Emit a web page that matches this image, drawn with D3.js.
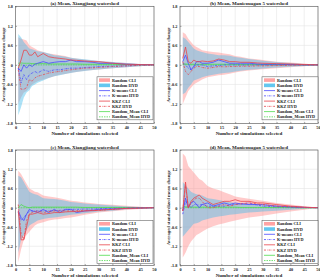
<!DOCTYPE html>
<html><head><meta charset="utf-8">
<script src="https://cdn.jsdelivr.net/npm/d3@7"></script>
<style>body{margin:0;background:#fff}svg{display:block}text{font-family:"Liberation Serif","DejaVu Serif",serif;font-weight:bold;fill:#222}</style>
</head><body><svg id="c" width="320" height="278"></svg>
<script>
const xs = [1,2,3,4,5,6,7,8,10,12,14,16,18,20,22,25,28,30,35,40,45,50];
const xTicks = [0,5,10,15,20,25,30,35,40,45,50];
const yTicks = [1.8,1.2,0.6,0,-0.6,-1.2,-1.8];
const yTickLabels = ["1.8","1.2","0.6","0","-0.6","-1.2","-1.8"];
const titles = ["(a) Mean, Xiangjiang watershed","(b) Mean, Manicouagan 5 watershed","(c) Mean, Xiangjiang watershed","(d) Mean, Manicouagan 5 watershed"];
const legendLabels = ["Random CLI","Random HYD","K-means CLI","K-means HYD","KKZ CLI","KKZ HYD","Random_Mean CLI","Random_Mean HYD"];

// Panel (a)
const aCliUp = [0.85,0.8,0.78,0.75,0.6,0.55,0.5,0.45,0.4,0.35,0.33,0.3,0.27,0.22,0.2,0.16,0.14,0.12,0.09,0.06,0.03,0];
const aCliLo = [-1.2,-1.0,-0.85,-0.8,-0.7,-0.6,-0.55,-0.5,-0.45,-0.4,-0.35,-0.3,-0.28,-0.24,-0.22,-0.18,-0.16,-0.14,-0.1,-0.07,-0.04,0];
const aHydUp = [0.95,0.85,0.7,0.6,0.5,0.48,0.45,0.42,0.4,0.35,0.3,0.28,0.25,0.22,0.2,0.17,0.14,0.12,0.09,0.06,0.03,0];
const aHydLo = [-1.55,-1.3,-1.0,-0.85,-0.78,-0.65,-0.6,-0.55,-0.48,-0.4,-0.35,-0.32,-0.28,-0.25,-0.22,-0.19,-0.16,-0.14,-0.1,-0.07,-0.04,0];
const aKmCli = [-0.1,-0.2,0.0,-0.1,0.0,-0.05,0.02,0.05,0.1,0.05,0.08,0.1,0.1,0.15,0.1,0.1,0.08,0.05,0.05,0.02,0.01,0];
const aKmHyd = [-0.1,-0.55,-0.3,-0.45,-0.3,-0.25,-0.2,-0.25,-0.15,-0.2,-0.15,-0.15,-0.12,-0.1,-0.1,-0.08,-0.07,-0.05,-0.04,-0.03,-0.01,0];
const aKkzCli = [-0.1,0.15,0.45,0.45,0.3,0.3,0.4,0.25,0.35,0.25,0.22,0.2,0.18,0.15,0.14,0.12,0.1,0.1,0.05,0.02,0.01,0];
const aKkzHyd = [-0.15,-0.75,-0.75,-0.7,-0.45,-0.5,-0.4,-0.35,-0.3,-0.25,-0.22,-0.2,-0.17,-0.15,-0.13,-0.1,-0.09,-0.08,-0.05,-0.03,-0.01,0];
const aRmCli = [0.05,0.06,0.05,0.05,0.05,0.04,0.04,0.04,0.04,0.03,0.03,0.03,0.03,0.03,0.03,0.02,0.02,0.02,0.02,0.01,0.01,0];
const aRmHyd = [-0.02,0,-0.02,-0.01,-0.01,0,0,0,0,0,0,0,0,0,0,0,0,0,0,0,0,0];

// Panel (b)
const bCliUp = [1.0,0.95,0.8,0.7,0.6,0.55,0.5,0.45,0.42,0.4,0.38,0.35,0.33,0.27,0.25,0.2,0.17,0.15,0.1,0.07,0.04,0];
const bCliLo = [-1.2,-1.0,-0.8,-0.7,-0.6,-0.55,-0.5,-0.45,-0.38,-0.35,-0.32,-0.3,-0.27,-0.23,-0.2,-0.17,-0.15,-0.13,-0.1,-0.07,-0.04,0];
const bHydUp = [0.85,0.8,0.7,0.6,0.5,0.45,0.42,0.4,0.35,0.33,0.3,0.3,0.28,0.24,0.22,0.18,0.15,0.13,0.09,0.06,0.03,0];
const bHydLo = [-0.9,-0.85,-0.7,-0.6,-0.48,-0.45,-0.42,-0.38,-0.33,-0.3,-0.27,-0.25,-0.23,-0.2,-0.18,-0.15,-0.13,-0.11,-0.08,-0.06,-0.03,0];
const bKmCli = [0.1,0.3,0.05,-0.15,-0.05,0.1,0.1,0.05,0.05,0.08,0.15,0.1,0.05,0.05,0.05,0.05,0.03,0.02,0.02,0.01,0,0];
const bKmHyd = [0.05,0,-0.1,-0.15,-0.05,0,0,0,-0.05,-0.03,-0.02,0,0,0,0,0,0,0,0,0,0,0];
const bKkzCli = [0.2,0.55,0.1,0.05,0.15,0.1,0.1,0.12,0.1,0.12,0.18,0.15,0.1,0.1,0.08,0.08,0.06,0.05,0.04,0.03,0.01,0];
const bKkzHyd = [0.1,-0.2,-0.3,-0.2,-0.1,-0.05,-0.05,-0.08,-0.1,-0.08,-0.05,-0.06,-0.05,-0.05,-0.04,-0.04,-0.03,-0.03,-0.02,-0.01,0,0];
const bRmCli = [0.03,0.03,0.02,0.02,0.02,0.02,0.02,0.02,0.02,0.02,0.02,0.02,0.02,0.01,0.01,0.01,0.01,0.01,0.01,0.01,0,0];
const bRmHyd = [0.01,0.01,0.01,0,0,0,0,0,0,0,0,0,0,0,0,0,0,0,0,0,0,0];

// Panel (c)
const cCliUp = [1.15,1.05,0.9,0.75,0.6,0.55,0.5,0.48,0.38,0.35,0.33,0.3,0.26,0.22,0.2,0.16,0.14,0.12,0.09,0.06,0.03,0];
const cCliLo = [-1.7,-1.3,-1.0,-0.85,-0.75,-0.65,-0.55,-0.5,-0.45,-0.4,-0.37,-0.35,-0.32,-0.3,-0.27,-0.22,-0.18,-0.15,-0.11,-0.07,-0.04,0];
const cHydUp = [1.0,0.95,0.8,0.65,0.5,0.45,0.42,0.4,0.3,0.28,0.27,0.25,0.22,0.18,0.16,0.13,0.11,0.1,0.07,0.04,0.02,0];
const cHydLo = [-1.4,-1.0,-0.85,-0.7,-0.55,-0.5,-0.45,-0.4,-0.35,-0.32,-0.3,-0.28,-0.25,-0.22,-0.2,-0.17,-0.14,-0.12,-0.09,-0.05,-0.03,0];
const cKmCli = [-0.1,-0.3,-0.4,-0.2,-0.05,-0.1,-0.12,-0.15,-0.05,-0.15,-0.05,-0.15,-0.05,-0.05,-0.15,-0.1,-0.08,-0.05,-0.04,-0.02,-0.01,0];
const cKmHyd = [-0.15,-0.4,-0.3,-0.2,-0.1,-0.1,-0.1,-0.1,-0.1,-0.1,-0.09,-0.08,-0.07,-0.05,-0.05,-0.04,-0.04,-0.03,-0.02,-0.01,0,0];
const cKkzCli = [-0.1,-1.0,-1.0,-0.6,-0.2,-0.2,-0.18,-0.15,-0.2,-0.18,-0.15,-0.15,-0.13,-0.12,-0.12,-0.1,-0.09,-0.08,-0.05,-0.02,-0.01,0];
const cKkzHyd = [0.1,-0.8,-1.0,-0.4,-0.2,-0.15,-0.12,-0.1,-0.15,-0.12,-0.1,-0.1,-0.1,-0.1,-0.09,-0.08,-0.08,-0.08,-0.05,-0.02,-0.01,0];
const cRmCli = [0,0.1,0.05,0.02,0,0.02,0.02,0.02,0.02,0.02,0.02,0.02,0.02,0.02,0.02,0.01,0.01,0.01,0.01,0.01,0,0];
const cRmHyd = [0,0,0,0,0,0,0,0,0,0,0,0,0,0,0,0,0,0,0,0,0,0];

// Panel (d)
const dCliUp = [1.69,1.6,1.3,1.2,1.1,1.0,0.9,0.85,0.68,0.6,0.55,0.48,0.42,0.35,0.32,0.28,0.24,0.22,0.15,0.1,0.05,0];
const dCliLo = [-1.55,-1.4,-1.2,-1.05,-0.95,-0.85,-0.8,-0.75,-0.65,-0.58,-0.52,-0.48,-0.44,-0.4,-0.36,-0.3,-0.27,-0.25,-0.18,-0.12,-0.06,0];
const dHydUp = [0.8,0.7,0.6,0.5,0.45,0.42,0.4,0.38,0.3,0.27,0.24,0.2,0.18,0.15,0.14,0.12,0.11,0.1,0.07,0.05,0.02,0];
const dHydLo = [-0.9,-0.8,-0.7,-0.6,-0.5,-0.48,-0.45,-0.4,-0.35,-0.3,-0.27,-0.25,-0.22,-0.2,-0.18,-0.15,-0.13,-0.12,-0.09,-0.06,-0.03,0];
const dKmCli = [-0.1,0.3,0,0.15,0.2,0.1,0,0.1,0.15,0.05,0.1,0.15,0.1,0.15,0.12,0.1,0.1,0.1,0.05,0.03,0.01,0];
const dKmHyd = [-0.2,0.2,0.1,0,0.1,0.1,0.08,0.1,0.05,0.05,0.05,0.05,0.08,0.1,0.12,0.15,0.08,0.05,0.03,0.02,0.01,0];
const dKkzCli = [-0.1,0.8,0,0.2,0.3,0.35,0.4,0.3,0.2,0.1,0.15,0.2,0.2,0.25,0.2,0.2,0.15,0.15,0.1,0.05,0.02,0];
const dKkzHyd = [-0.1,0.7,0,0.15,0.25,0.3,0.3,0.2,0,0,0.05,0.1,0.05,0.1,0.12,0.15,0.12,0.1,0.05,0.03,0.01,0];
const dRmCli = [0.02,0.03,0.02,0.02,0.02,0.02,0.02,0.02,0.02,0.02,0.02,0.02,0.02,0.02,0.01,0.01,0.01,0.01,0.01,0.01,0,0];
const dRmHyd = [0,0.01,0,0,0,0,0,0,0,0,0,0,0,0,0,0,0,0,0,0,0,0];

const panels = [
 {cliUp:aCliUp,cliLo:aCliLo,hydUp:aHydUp,hydLo:aHydLo,kmCli:aKmCli,kmHyd:aKmHyd,kkzCli:aKkzCli,kkzHyd:aKkzHyd,rmCli:aRmCli,rmHyd:aRmHyd, box:[15.5,154,6.3,123.5], hydOver:false},
 {cliUp:bCliUp,cliLo:bCliLo,hydUp:bHydUp,hydLo:bHydLo,kmCli:bKmCli,kmHyd:bKmHyd,kkzCli:bKkzCli,kkzHyd:bKkzHyd,rmCli:bRmCli,rmHyd:bRmHyd, box:[180,318,6.3,123.5]},
 {cliUp:cCliUp,cliLo:cCliLo,hydUp:cHydUp,hydLo:cHydLo,kmCli:cKmCli,kmHyd:cKmHyd,kkzCli:cKkzCli,kkzHyd:cKkzHyd,rmCli:cRmCli,rmHyd:cRmHyd, box:[15.5,154,150,265.5]},
 {cliUp:dCliUp,cliLo:dCliLo,hydUp:dHydUp,hydLo:dHydLo,kmCli:dKmCli,kmHyd:dKmHyd,kkzCli:dKkzCli,kkzHyd:dKkzHyd,rmCli:dRmCli,rmHyd:dRmHyd, box:[180,318,150,265.5]}
];

const col = {pink:"rgb(255,140,140)", cyan:"rgb(60,185,235)", blue:"#4a4aff", red:"#e8454c", green:"#4fdc4f"};
const svg = d3.select("#c");

panels.forEach((p,i)=>{
  const [x0,x1,y0,y1] = p.box;
  const x = d3.scaleLinear().domain([0,50]).range([x0,x1]);
  const y = d3.scaleLinear().domain([-1.8,1.8]).range([y1,y0]);
  const g = svg.append("g");
  // grid
  g.append("g").selectAll("line").data(xTicks).join("line")
    .attr("x1",d=>x(d)).attr("x2",d=>x(d)).attr("y1",y0).attr("y2",y1)
    .attr("stroke","#e4e4e4").attr("stroke-width",0.6);
  g.append("g").selectAll("line").data(yTicks).join("line")
    .attr("y1",d=>y(d)).attr("y2",d=>y(d)).attr("x1",x0).attr("x2",x1)
    .attr("stroke","#e4e4e4").attr("stroke-width",0.6);
  // bands
  const area = (up,lo)=>d3.area().x((d,k)=>x(xs[k])).y0((d,k)=>y(lo[k])).y1((d,k)=>y(up[k]))(xs);
  g.append("path").attr("d",area(p.cliUp,p.cliLo)).attr("fill",col.pink).attr("fill-opacity",0.45);
  g.append("path").attr("d",area(p.hydUp,p.hydLo)).attr("fill",col.cyan).attr("fill-opacity",0.42);
  const line = v=>d3.line().x((d,k)=>x(xs[k])).y((d,k)=>y(v[k]))(xs);
  const series = [
    [p.rmCli,col.green,null],[p.rmHyd,col.green,"1.5,1"],
    [p.kmCli,col.blue,null],[p.kmHyd,col.blue,"2,1,0.6,1"],
    [p.kkzCli,col.red,null],[p.kkzHyd,col.red,"2,1,0.6,1"]
  ];
  series.forEach(([v,c,da])=>{
    g.append("path").attr("d",line(v)).attr("fill","none").attr("stroke",c)
      .attr("stroke-width",0.8).attr("stroke-dasharray",da);
  });
  // axes box
  g.append("rect").attr("x",x0).attr("y",y0).attr("width",x1-x0).attr("height",y1-y0)
    .attr("fill","none").attr("stroke","#555").attr("stroke-width",0.6);
  const ax = d3.axisBottom(x).tickValues(xTicks).tickSize(-1.5).tickPadding(2.5);
  const axg = g.append("g").attr("transform",`translate(0,${y1})`).call(ax);
  const ay = d3.axisLeft(y).tickValues(yTicks).tickFormat((d,k)=>yTickLabels[k]).tickSize(-1.5).tickPadding(2.5);
  const ayg = g.append("g").attr("transform",`translate(${x0},0)`).call(ay);
  [axg,ayg].forEach(a=>{
    a.select(".domain").remove();
    a.selectAll("line").attr("stroke","#555").attr("stroke-width",0.5);
    a.selectAll("text").attr("font-size",4.3).attr("font-family","Liberation Serif").attr("font-weight","bold").attr("fill","#222");
  });
  // titles
  g.append("text").attr("x",(x0+x1)/2).attr("y",y0-1.5).attr("text-anchor","middle").attr("font-size",5).text(titles[i]);
  g.append("text").attr("x",(x0+x1)/2).attr("y",y1+11.5).attr("text-anchor","middle").attr("font-size",5).text("Number of simulations selected");
  g.append("text").attr("transform",`translate(${x0-10.5},${(y0+y1)/2}) rotate(-90)`).attr("text-anchor","middle").attr("font-size",4.8).text("Averaged standardized mean change");
  // legend
  const lx = i%2===0 ? 97 : 262, ly = y0 + 70.5;
  const lg = g.append("g").attr("transform",`translate(${lx},${ly})`);
  lg.append("rect").attr("width",56).attr("height",43).attr("fill","#fff").attr("stroke","#666").attr("stroke-width",0.6);
  const items = [
    {t:"rect",c:col.pink},{t:"rect",c:col.cyan},
    {t:"line",c:col.blue,d:null},{t:"line",c:col.blue,d:"2,1,0.6,1"},
    {t:"line",c:col.red,d:null},{t:"line",c:col.red,d:"2,1,0.6,1"},
    {t:"line",c:col.green,d:null},{t:"line",c:col.green,d:"1.5,1"}
  ];
  items.forEach((it,k)=>{
    const cy = 3.3 + k*5.25;
    if(it.t==="rect"){
      lg.append("rect").attr("x",2).attr("y",cy-1.8).attr("width",11).attr("height",3.6).attr("fill",it.c).attr("fill-opacity",0.8);
    } else {
      lg.append("line").attr("x1",2).attr("x2",13).attr("y1",cy).attr("y2",cy).attr("stroke",it.c).attr("stroke-width",0.8).attr("stroke-dasharray",it.d);
    }
    lg.append("text").attr("x",15).attr("y",cy+1.5).attr("font-size",4.2).text(legendLabels[k]);
  });
});
</script></body></html>
